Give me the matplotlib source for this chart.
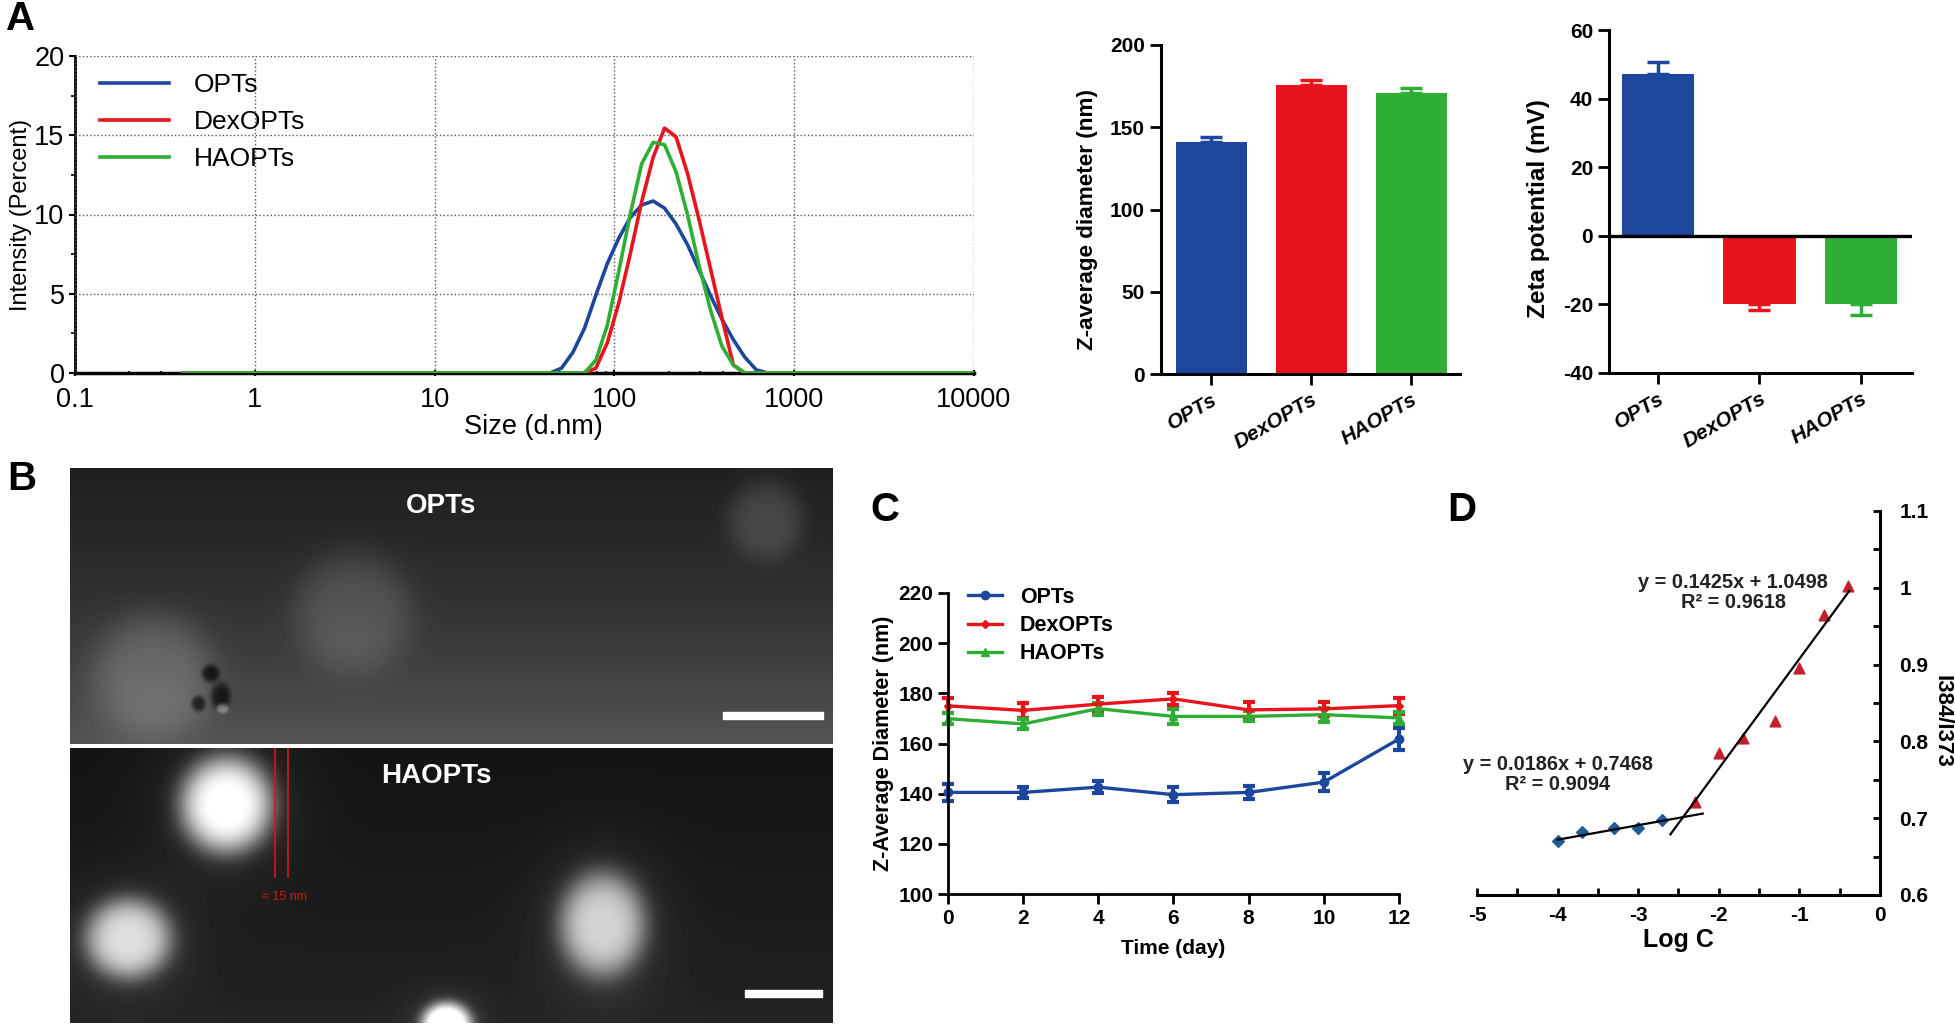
"""Nanoparticle characterisation figure, panels A-D."""
import numpy as np
import matplotlib
matplotlib.use("Agg")
import matplotlib.pyplot as plt
from matplotlib.ticker import FixedLocator, NullFormatter

plt.rcParams["font.family"] = ["Liberation Sans", "DejaVu Sans"]
plt.rcParams["axes.unicode_minus"] = False

W, H = 1956, 1024
BLUE, RED, GREEN = "#1c479c", "#e8141c", "#2fae35"
names = ["OPTs", "DexOPTs", "HAOPTs"]

# A: size distribution
size_opt = [0.4, 43.82, 50.75, 58.77, 68.06, 78.82, 91.28, 105.7, 122.4, 141.8, 164.2, 190.1, 220.2, 255.0, 295.3, 342.0, 396.1, 458.7, 531.2, 615.1, 712.4, 10000]
int_opt = [0, 0, 0.3, 1.3, 2.8, 4.9, 6.9, 8.5, 9.8, 10.6, 10.85, 10.4, 9.4, 8.1, 6.5, 4.9, 3.4, 2.1, 1.0, 0.2, 0, 0]
size_dex = [0.4, 68.06, 78.82, 91.28, 105.7, 122.4, 141.8, 164.2, 190.1, 220.2, 255.0, 295.3, 342.0, 396.1, 458.7, 531.2, 10000]
int_dex = [0, 0, 0.3, 1.9, 4.4, 7.5, 10.8, 13.6, 15.45, 14.9, 12.6, 9.7, 6.6, 3.5, 0.5, 0, 0]
size_ha = [0.4, 68.06, 78.82, 91.28, 105.7, 122.4, 141.8, 164.2, 190.1, 220.2, 255.0, 295.3, 342.0, 396.1, 458.7, 531.2, 10000]
int_ha = [0, 0, 0.8, 3.0, 6.4, 10.0, 13.2, 14.55, 14.4, 12.7, 10.0, 6.8, 4.0, 1.7, 0.5, 0, 0]

# A: bars
zavg = [141.2, 175.6, 170.7]
zavg_err = [3.0, 3.0, 3.3]
zeta = [47.1, -19.8, -20.0]
zeta_err = [3.5, 1.7, 3.0]

# C: stability
days = [0, 2, 4, 6, 8, 10, 12]
stab_opt = [140.5, 140.5, 142.6, 139.6, 140.5, 144.6, 161.8]
stab_dex = [175.0, 173.2, 175.7, 177.8, 173.4, 173.8, 175.1]
stab_ha = [169.9, 167.8, 173.9, 170.8, 170.8, 171.5, 170.2]
stab_opt_err = [3.3, 2.2, 2.5, 3.0, 2.5, 3.5, 4.5]
stab_dex_err = [3.0, 3.0, 2.8, 2.5, 3.0, 2.7, 3.2]
stab_ha_err = [2.2, 2.0, 2.4, 3.0, 2.0, 2.8, 2.5]

# D: CMC
logc_low = [-4, -3.7, -3.3, -3, -2.7]
ratio_low = [0.670, 0.682, 0.687, 0.6876, 0.6976]
logc_high = [-2.3, -2, -1.7, -1.3, -1, -0.7, -0.4]
ratio_high = [0.7206, 0.785, 0.805, 0.827, 0.895, 0.964, 1.002]
fit_low_x = [-4, -2.2]
fit_low_y = [0.672, 0.706]
fit_high_x = [-2.6, -0.38]
fit_high_y = [0.679, 0.996]

# B: micrograph stand-ins, (x, y, rx, ry, brightness) in image pixels
blobs_top = [(83, 207, 62, 64, 0.16), (283, 144, 60, 62, 0.13), (695, 52, 38, 40, 0.13),
             (140, 205, 9, 9, -0.25), (150, 228, 10, 14, -0.22), (128, 235, 7, 8, -0.25), (152, 240, 6, 5, 0.3)]
blobs_bottom = [(156, 56, 46, 48, 0.8), (58, 190, 43, 40, 0.62), (532, 176, 43, 52, 0.58), (376, 276, 25, 22, 0.95)]


def make_axes(left, top, right, bottom):
    return fig.add_axes([left / W, 1 - bottom / H, (right - left) / W, (bottom - top) / H])


def px_text(x, y, s, **kw):
    fig.text(x / W, 1 - y / H, s, va="center", **kw)


def micrograph(w, h, blobs, base, ramp):
    yy, xx = np.mgrid[0:h, 0:w]
    img = base + ramp * (yy / h) ** 1.5
    for x, y, rx, ry, b in blobs:
        r2 = ((xx - x) / rx) ** 2 + ((yy - y) / ry) ** 2
        img = img + b * np.exp(-r2 ** 2)
        if b > 0.4:
            img = img + 0.14 * np.exp(-r2 / 1.8)
    return np.clip(img, 0, 1)


def bar_panel(ax, values, errors, ylabel, label_size, label_y):
    for i, (v, e, c) in enumerate(zip(values, errors, [BLUE, RED, GREEN])):
        ax.bar(i, v, width=0.71, color=c)
        yerr = [[0], [e]] if v > 0 else [[e], [0]]
        ax.errorbar(i, v, yerr=yerr, color=c, capsize=8, capthick=2.5, elinewidth=2.5)
    ax.set_xticks(range(3))
    ax.set_xticklabels(names, rotation=30, ha="right", rotation_mode="anchor", style="italic", fontweight="bold", fontsize=16)
    ax.set_ylabel(ylabel, fontsize=label_size, fontweight="bold", labelpad=9, y=label_y)
    for s in ["top", "right"]:
        ax.spines[s].set_visible(False)
    for s in ["left", "bottom"]:
        ax.spines[s].set_linewidth(2.2)
    ax.tick_params(width=2, length=8, labelsize=15)
    for t in ax.get_yticklabels():
        t.set_fontweight("bold")


fig = plt.figure(figsize=(W / 100, H / 100), dpi=100)

# panel A, distribution
ax = make_axes(75, 56, 974, 373)
ax.plot(size_opt, int_opt, color=BLUE, lw=2.6, label=names[0])
ax.plot(size_dex, int_dex, color=RED, lw=2.6, label=names[1])
ax.plot(size_ha, int_ha, color=GREEN, lw=2.6, label=names[2])
ax.set_xscale("log")
ax.set_xlim(0.1, 10000)
ax.set_ylim(0, 20)
ax.set_xticks([0.1, 1, 10, 100, 1000, 10000])
ax.set_xticklabels(["0.1", "1", "10", "100", "1000", "10000"])
ax.set_yticks([0, 5, 10, 15, 20])
ax.yaxis.set_minor_locator(FixedLocator([2.5, 7.5, 12.5, 17.5]))
ax.xaxis.set_minor_formatter(NullFormatter())
ax.grid(True, which="major", color="#555555", ls=":", lw=1)
ax.tick_params(which="major", width=1.5, length=4, labelsize=19.5)
ax.tick_params(which="minor", width=1.2, length=3)
ax.tick_params(axis="x", which="both", direction="inout", pad=8)
ax.set_xlabel("Size (d.nm)", fontsize=19.5, labelpad=1, x=0.51)
ax.set_ylabel("Intensity (Percent)", fontsize=17, labelpad=2)
for s in ["top", "right"]:
    ax.spines[s].set_visible(False)
ax.spines["left"].set_linewidth(2)
ax.spines["bottom"].set_linewidth(2.5)
for sp in ax.spines.values():
    sp.set_zorder(1)
ax.legend(loc="upper left", frameon=False, fontsize=19, bbox_to_anchor=(0.028, 0.945), handlelength=2.6,
          labelspacing=0.48, handletextpad=0.95, borderpad=0, borderaxespad=0)

# panel A, bars
ax = make_axes(1161, 45, 1460, 374)
bar_panel(ax, zavg, zavg_err, "Z-average diameter (nm)", 16.2, 0.47)
ax.set_xlim(-0.5, 2.49)
ax.set_ylim(0, 200)
ax.set_yticks([0, 50, 100, 150, 200])

ax = make_axes(1609, 30, 1912, 373)
bar_panel(ax, zeta, zeta_err, "Zeta potential (mV)", 17.5, 0.478)
ax.set_xlim(-0.48, 2.5)
ax.set_ylim(-40, 60)
ax.set_yticks([-40, -20, 0, 20, 40, 60])
ax.axhline(0, color="black", lw=2.4)

# panel B
ax = make_axes(70, 468, 833, 744)
ax.imshow(micrograph(763, 276, blobs_top, 0.13, 0.2), cmap="gray", vmin=0, vmax=1, aspect="auto")
ax.fill_between([653, 753], 243, 250, color="white")
ax.axis("off")
px_text(441, 506, "OPTs", color="white", fontsize=20, fontweight="bold", ha="center")

ax = make_axes(70, 748, 833, 1023)
ax.imshow(micrograph(763, 275, blobs_bottom, 0.08, 0.06), cmap="gray", vmin=0, vmax=1, aspect="auto")
ax.fill_between([675, 752], 241, 248, color="white")
ax.plot([205, 205], [0, 128], color="#d01818", lw=1.2)
ax.plot([218, 218], [0, 128], color="#d01818", lw=1.2)
ax.set_xlim(-0.5, 762.5)
ax.set_ylim(274.5, -0.5)
ax.axis("off")
px_text(436, 776, "HAOPTs", color="white", fontsize=20, fontweight="bold", ha="center")
px_text(285, 897, "≈ 15 nm", color="#d01818", fontsize=9, ha="center")

# panel C
ax = make_axes(948, 593, 1399, 894)
series = [(stab_opt, stab_opt_err, BLUE, "o"), (stab_dex, stab_dex_err, RED, "D"), (stab_ha, stab_ha_err, GREEN, "^")]
for (vals, errs, c, m), name in zip(series, names):
    ax.errorbar(days, vals, yerr=errs, color=c, marker=m, ms=6 if m != "D" else 4, lw=2.4, capsize=4,
                capthick=3, elinewidth=3, clip_on=False, label=name)
ax.set_xlim(0, 12)
ax.set_ylim(100, 220)
ax.set_xticks(days)
ax.set_yticks(range(100, 221, 20))
ax.set_xlabel("Time (day)", fontsize=15, fontweight="bold", labelpad=8)
ax.set_ylabel("Z-Average Diameter (nm)", fontsize=15.5, fontweight="bold", labelpad=3)
ax.tick_params(width=2, length=7, labelsize=15)
for t in ax.get_xticklabels() + ax.get_yticklabels():
    t.set_fontweight("bold")
for s in ["top", "right"]:
    ax.spines[s].set_visible(False)
for s in ["left", "bottom"]:
    ax.spines[s].set_linewidth(2)
handles, labels = ax.get_legend_handles_labels()
handles = [h[0] for h in handles]
ax.legend(handles, labels, loc="upper left", frameon=False, bbox_to_anchor=(0.045, 1.02), handlelength=1.55,
          labelspacing=0.33, handletextpad=0.85, borderpad=0, borderaxespad=0, prop={"weight": "bold", "size": 15.5})

# panel D
ax = make_axes(1477, 511, 1880, 895)
ax.scatter(logc_low, ratio_low, marker="D", s=36, color="#1f5b99", zorder=3)
ax.scatter(logc_high, ratio_high, marker="^", s=60, color="#c3202c", zorder=3)
ax.plot(fit_low_x, fit_low_y, color="black", lw=1.6, zorder=4)
ax.plot(fit_high_x, fit_high_y, color="black", lw=1.6, zorder=4)
ax.set_xlim(-5, 0)
ax.set_ylim(0.6, 1.1)
ax.set_xticks([-5, -4, -3, -2, -1, 0])
ax.set_xticks(np.arange(-4.5, 0, 1), minor=True)
ax.set_yticks([0.6, 0.7, 0.8, 0.9, 1.0, 1.1])
ax.set_yticklabels(["0.6", "0.7", "0.8", "0.9", "1", "1.1"])
ax.set_yticks(np.arange(0.65, 1.1, 0.1), minor=True)
ax.yaxis.tick_right()
ax.spines["left"].set_visible(False)
ax.spines["top"].set_visible(False)
ax.spines["right"].set_linewidth(2.2)
ax.spines["bottom"].set_linewidth(2.2)
ax.tick_params(axis="x", which="both", direction="in", width=2, length=5, labelsize=15, pad=8)
ax.tick_params(axis="y", which="both", direction="in", width=2, length=5, labelsize=15, pad=14)
for t in ax.get_xticklabels() + ax.get_yticklabels():
    t.set_fontweight("bold")
ax.set_xlabel("Log C", fontsize=18, fontweight="bold", labelpad=2)
px_text(1942, 721, "I384/I373", fontsize=16, fontweight="bold", rotation=270, ha="center")
ax.text(-1.82, 0.994, "y = 0.1425x + 1.0498\nR² = 0.9618", fontsize=14.4, fontweight="bold", ha="center", va="center", linespacing=1.05,
        color="#222222", multialignment="center")
ax.text(-3.995, 0.757, "y = 0.0186x + 0.7468\nR² = 0.9094", fontsize=14.4, fontweight="bold", ha="center", va="center", linespacing=1.05,
        color="#222222", multialignment="center")

# panel letters
for x, y, letter in [(6, 19, "A"), (7, 479, "B"), (870, 510, "C"), (1447, 510, "D")]:
    px_text(x, y, letter, fontsize=29, fontweight="bold", ha="left")

fig.savefig("out.png", dpi=100)
plt.close(fig)
